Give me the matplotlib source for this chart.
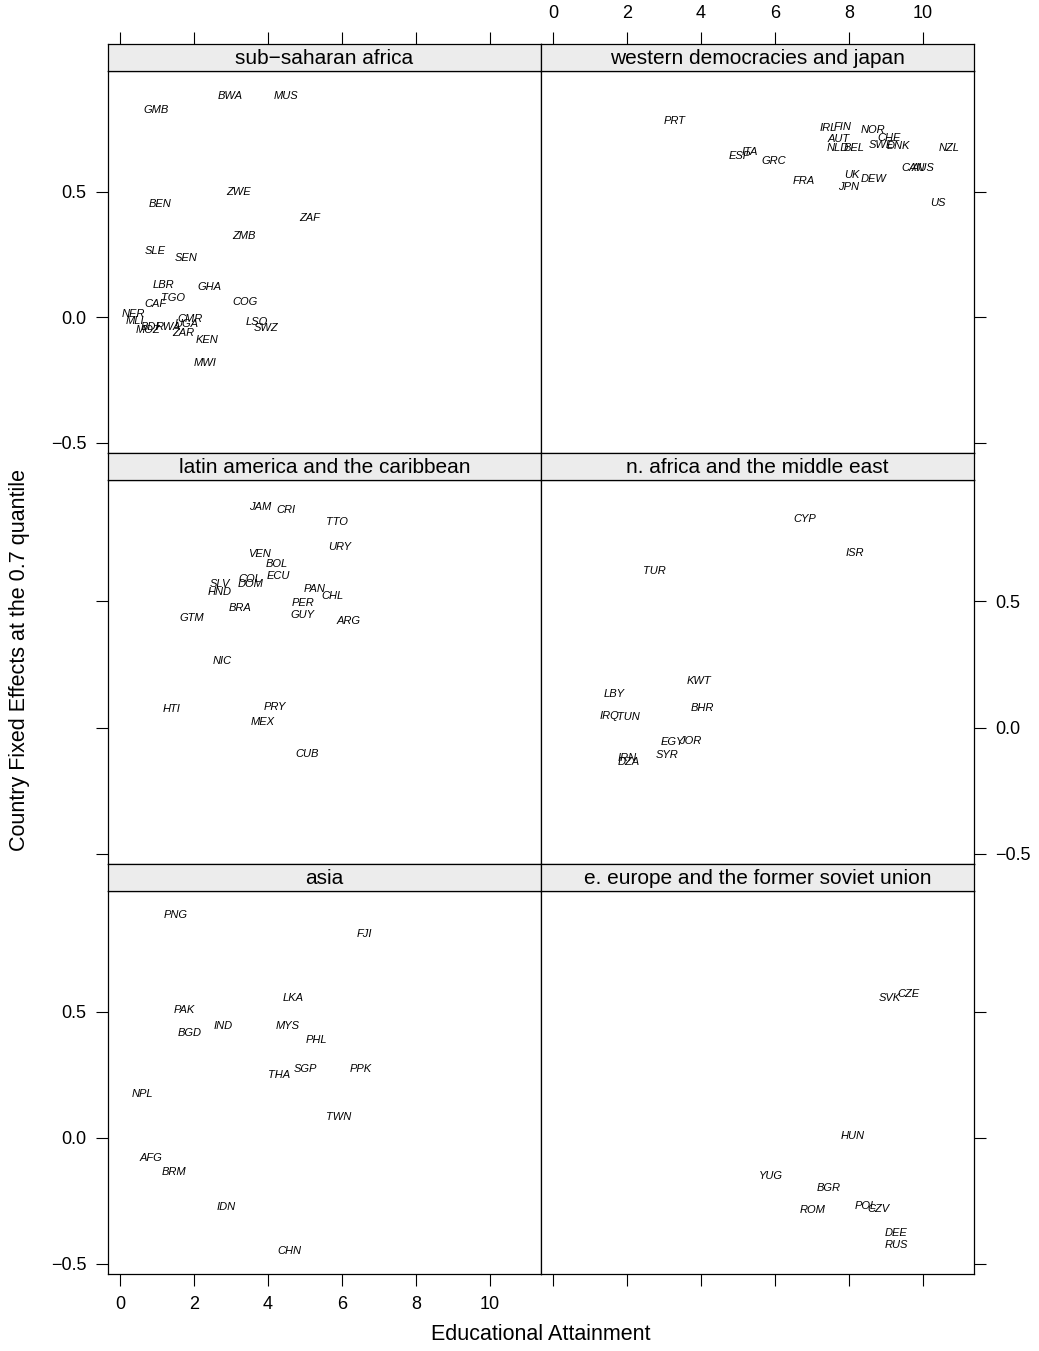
import matplotlib.pyplot as plt

plt.rcParams['font.family'] = ['Liberation Sans', 'DejaVu Sans']

# Data: country codes with (educational attainment, fixed effect) per region
ssa_codes = ['BWA', 'MUS', 'GMB', 'ZWE', 'BEN', 'ZAF', 'ZMB', 'SLE', 'SEN', 'LBR',
             'GHA', 'TGO', 'CAF', 'COG', 'NER', 'MLI', 'BDI', 'MOZ', 'RWA', 'UGA',
             'CMR', 'ZAR', 'KEN', 'LSO', 'SWZ', 'MWI']
ssa_x = [2.97, 4.50, 0.98, 3.21, 1.09, 5.13, 3.35, 0.96, 1.79, 1.18,
         2.42, 1.43, 0.96, 3.39, 0.36, 0.41, 0.81, 0.77, 1.31, 1.80,
         1.89, 1.71, 2.35, 3.69, 3.95, 2.31]
ssa_y = [0.882, 0.882, 0.825, 0.497, 0.452, 0.395, 0.323, 0.262, 0.234, 0.128,
         0.120, 0.075, 0.054, 0.060, 0.015, -0.015, -0.038, -0.052, -0.038, -0.025,
         -0.005, -0.061, -0.090, -0.017, -0.044, -0.180]

wes_codes = ['PRT', 'ESP', 'ITA', 'GRC', 'FRA', 'IRL', 'FIN', 'AUT', 'NLD', 'BEL',
             'NOR', 'CHE', 'SWE', 'DNK', 'NZL', 'CAN', 'AUS', 'UK', 'DEW', 'JPN', 'US']
wes_x = [3.30, 5.04, 5.32, 5.97, 6.78, 7.44, 7.83, 7.71, 7.71, 8.14,
         8.64, 9.08, 8.88, 9.33, 10.70, 9.74, 10.01, 8.07, 8.68, 7.98, 10.39]
wes_y = [0.782, 0.640, 0.656, 0.620, 0.544, 0.753, 0.757, 0.709, 0.673, 0.673,
         0.746, 0.713, 0.684, 0.683, 0.673, 0.594, 0.594, 0.567, 0.552, 0.519, 0.455]

lat_codes = ['JAM', 'CRI', 'TTO', 'URY', 'VEN', 'BOL', 'ECU', 'COL', 'DOM', 'SLV',
             'HND', 'PAN', 'CHL', 'PER', 'BRA', 'GUY', 'GTM', 'ARG', 'NIC', 'HTI',
             'PRY', 'MEX', 'CUB']
lat_x = [3.80, 4.50, 5.87, 5.95, 3.76, 4.25, 4.28, 3.51, 3.54, 2.70,
         2.70, 5.27, 5.75, 4.94, 3.24, 4.93, 1.94, 6.17, 2.76, 1.41,
         4.19, 3.86, 5.05]
lat_y = [0.872, 0.862, 0.812, 0.716, 0.687, 0.647, 0.600, 0.587, 0.567, 0.570,
         0.535, 0.548, 0.519, 0.493, 0.475, 0.446, 0.435, 0.422, 0.262, 0.075,
         0.083, 0.024, -0.103]

mena_codes = ['CYP', 'ISR', 'TUR', 'KWT', 'LBY', 'BHR', 'IRQ', 'TUN', 'EGY', 'JOR',
              'IRN', 'DZA', 'SYR']
mena_x = [6.81, 8.16, 2.73, 3.95, 1.65, 4.05, 1.54, 2.03, 3.22, 3.70, 2.00, 2.05, 3.08]
mena_y = [0.825, 0.690, 0.619, 0.183, 0.131, 0.079, 0.044, 0.040, -0.056, -0.052,
          -0.119, -0.135, -0.107]

asia_codes = ['PNG', 'FJI', 'LKA', 'PAK', 'IND', 'MYS', 'BGD', 'PHL', 'THA', 'SGP',
              'PPK', 'NPL', 'TWN', 'AFG', 'BRM', 'IDN', 'CHN']
asia_x = [1.51, 6.62, 4.68, 1.73, 2.78, 4.54, 1.89, 5.30, 4.30, 5.00,
          6.51, 0.62, 5.92, 0.84, 1.46, 2.86, 4.57]
asia_y = [0.885, 0.810, 0.556, 0.508, 0.444, 0.444, 0.417, 0.389, 0.250, 0.274,
          0.274, 0.175, 0.083, -0.079, -0.135, -0.274, -0.448]

eeu_codes = ['SVK', 'CZE', 'HUN', 'YUG', 'BGR', 'POL', 'CZV', 'ROM', 'DEE', 'RUS']
eeu_x = [9.11, 9.62, 8.11, 5.89, 7.46, 8.46, 8.81, 7.03, 9.27, 9.27]
eeu_y = [0.556, 0.571, 0.008, -0.151, -0.198, -0.270, -0.282, -0.286, -0.377, -0.425]

panels = [
    ('sub\u2212saharan africa', ssa_codes, ssa_x, ssa_y),
    ('western democracies and japan', wes_codes, wes_x, wes_y),
    ('latin america and the caribbean', lat_codes, lat_x, lat_y),
    ('n. africa and the middle east', mena_codes, mena_x, mena_y),
    ('asia', asia_codes, asia_x, asia_y),
    ('e. europe and the former soviet union', eeu_codes, eeu_x, eeu_y),
]

xticks = [0, 2, 4, 6, 8, 10]
yticks = [-0.5, 0.0, 0.5]
yticklabels = ['\u22120.5', '0.0', '0.5']

W, H = 1039, 1351
fig = plt.figure(figsize=(W / 100, H / 100), dpi=100)

col_left = [108, 541]
col_w = 433
row_top = [44, 453, 864]
row_bot = [453, 864, 1274]
strip_h = 27

tick_kw = dict(direction='out', length=8.5, width=0.8, labelsize=13, pad=7)

for i, (title, codes, xs, ys) in enumerate(panels):
    r, c = divmod(i, 2)
    x0 = col_left[c]
    top = row_top[r] + strip_h
    ax = fig.add_axes([x0 / W, 1 - row_bot[r] / H, col_w / W, (row_bot[r] - top) / H])
    ax.set_xlim(-0.32, 11.38)
    ax.set_ylim(-0.54, 0.98)
    for code, x, y in zip(codes, xs, ys):
        ax.text(x, y, code, ha='center', va='center', fontsize=8,
                fontstyle='italic', color='black')
    ax.set_xticks(xticks)
    ax.set_yticks(yticks)
    ax.set_yticklabels(yticklabels)
    ax.tick_params(axis='x', top=False, bottom=(r == 2),
                   labelbottom=(r == 2 and c == 0), labeltop=False, **tick_kw)
    ax.tick_params(axis='y', left=(c == 0), right=(c == 1),
                   labelleft=(c == 0 and r != 1), labelright=(c == 1 and r == 1),
                   **tick_kw)
    for s in ax.spines.values():
        s.set_linewidth(0.9)

    sax = fig.add_axes([x0 / W, 1 - top / H, col_w / W, strip_h / H])
    sax.set_facecolor('#ececec')
    sax.set_xlim(-0.32, 11.38)
    sax.set_ylim(0, 1)
    sax.set_yticks([])
    sax.set_xticks(xticks)
    sax.tick_params(axis='x', bottom=False, labelbottom=False, top=(r == 0),
                    labeltop=(r == 0 and c == 1), **tick_kw)
    for s in sax.spines.values():
        s.set_linewidth(0.9)
    sax.text(0.5, 0.48, title, transform=sax.transAxes, ha='center', va='center',
             fontsize=15)

fig.text(541 / W, 1 - 1335 / H, 'Educational Attainment', ha='center', va='center',
         fontsize=15.5)
fig.text(20 / W, 1 - 660 / H, 'Country Fixed Effects at the 0.7 quantile',
         ha='center', va='center', rotation=90, fontsize=15.5)

fig.savefig('out.png', dpi=100)
